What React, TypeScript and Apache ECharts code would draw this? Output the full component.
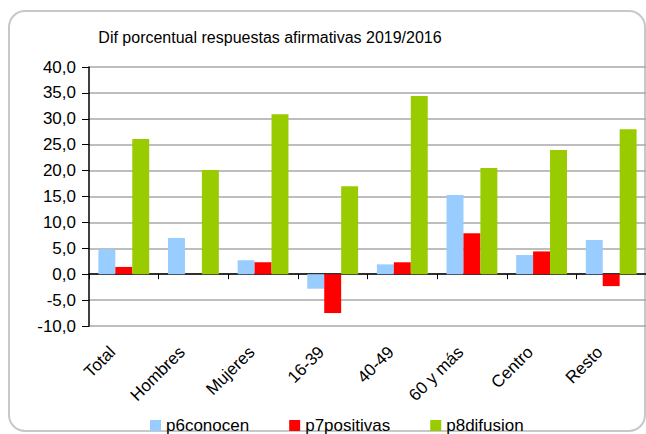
import React, { useEffect, useRef } from "react";
import * as echarts from "echarts";

const categories = ["Total", "Hombres", "Mujeres", "16-39", "40-49", "60 y más", "Centro", "Resto"];
const p6conocen = [4.8, 7.0, 2.7, -2.8, 1.9, 15.3, 3.7, 6.6];
const p7positivas = [1.4, 0.0, 2.3, -7.5, 2.3, 7.9, 4.4, -2.3];
const p8difusion = [26.1, 20.1, 30.9, 17.0, 34.4, 20.5, 24.0, 28.0];
const seriesNames = ["p6conocen", "p7positivas", "p8difusion"];
const colors = ["#99ccff", "#ff0000", "#99cc00"];
const titleText = "Dif porcentual respuestas afirmativas 2019/2016";

const FONT = "'Liberation Sans', Arial, sans-serif";

export default function App() {
  const ref = useRef<HTMLDivElement>(null);
  useEffect(() => {
    if (!ref.current) return;
    const chart = echarts.init(ref.current, null, { renderer: "svg" });
    const data = [p6conocen, p7positivas, p8difusion];
    chart.setOption({
      animation: false,
      backgroundColor: "#ffffff",
      textStyle: { fontFamily: FONT },
      title: {
        text: titleText,
        left: 265,
        textAlign: "center",
        top: 24,
        textStyle: { fontFamily: FONT, fontSize: 16, fontWeight: "normal", color: "#000" },
      },
      legend: {
        data: seriesNames,
        left: 150,
        top: 417,
        itemWidth: 11,
        itemHeight: 11,
        itemGap: 40,
        icon: "rect",
        textStyle: { fontFamily: FONT, fontSize: 17, lineHeight: 17, color: "#000", padding: [0, 0, 0, 0] },
        padding: 0,
      },
      graphic: [
        {
          type: "rect",
          shape: { x: 9, y: 11, width: 636, height: 420, r: 16 },
          style: { fill: "none", stroke: "#c8c8c8", lineWidth: 2 },
          silent: true,
          z: -1,
        },
      ],
      grid: { left: 89, right: 0, top: 67, bottom: 108, containLabel: false },
      xAxis: [
        {
          type: "category",
          data: categories,
          axisLine: { onZero: true, lineStyle: { color: "#000", width: 1.5 } },
          axisTick: { show: true, length: 5, lineStyle: { color: "#000" } },
          axisLabel: { show: false },
          splitLine: { show: false },
        },
        {
          type: "category",
          data: categories,
          position: "bottom",
          axisLine: { show: false, onZero: false },
          axisTick: { show: false },
          axisLabel: {
            rotate: 45,
            margin: 12,
            padding: [0, 16, 0, 0],
            fontFamily: FONT,
            fontSize: 17,
            color: "#000",
            interval: 0,
          },
        },
      ],
      yAxis: {
        type: "value",
        min: -10,
        max: 40,
        interval: 5,
        axisLine: { show: true, lineStyle: { color: "#000", width: 1.5 } },
        axisTick: { show: true, length: 7, lineStyle: { color: "#000" } },
        axisLabel: {
          fontFamily: FONT,
          fontSize: 17,
          color: "#000",
          margin: 13,
          formatter: (v: number) => v.toFixed(1).replace(".", ","),
        },
        splitLine: { show: true, lineStyle: { color: "#a8a8a8", width: 1.5 } },
      },
      series: seriesNames.map((name, i) => ({
        name,
        type: "bar",
        xAxisIndex: 0,
        data: data[i],
        barGap: "0%",
        barCategoryGap: "27%",
        itemStyle: { color: colors[i] },
      })),
    });
    return () => chart.dispose();
  }, []);
  return (
    <div
      ref={ref}
      style={{ position: "fixed", left: 0, top: 0, width: 646, height: 434 }}
    />
  );
}
